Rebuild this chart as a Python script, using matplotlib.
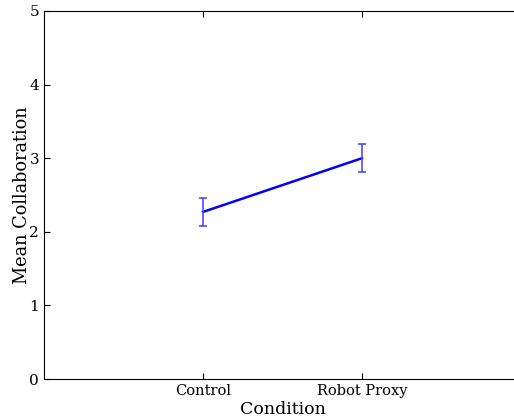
import numpy as np
import matplotlib
matplotlib.use("Agg")
import matplotlib.pyplot as plt

conditions = ["Control", "Robot Proxy"]
means = [2.27, 3.00]
errors = [0.19, 0.19]

plt.rcParams['font.family'] = ['DejaVu Serif']

fig = plt.figure(figsize=(5.14, 4.19), dpi=100)
# axes runs a little past the right edge, like the cropped original
ax = fig.add_axes([44 / 514, 40 / 419, 477 / 514, 368 / 419])

x = np.arange(1, len(conditions) + 1)
ax.plot(x, means, color='blue', lw=1.8)
ax.errorbar(x, means, yerr=errors, fmt='none', ecolor=(0.3, 0.3, 1.0),
            elinewidth=1.2, capsize=3, capthick=1.2)

ax.set_xlim(0, 3)
ax.set_ylim(0, 5)
ax.set_xticks(x)
ax.set_xticklabels(conditions, fontsize=10.5)
ax.set_yticks(range(0, 6))
ax.tick_params(axis='y', labelsize=11)
ax.tick_params(direction='in', length=4, top=True, right=True)
ax.set_xlabel("Condition", fontsize=12.5, labelpad=2)
ax.set_ylabel("Mean Collaboration", fontsize=12.8, labelpad=-1)

fig.savefig("out.png", dpi=100)
